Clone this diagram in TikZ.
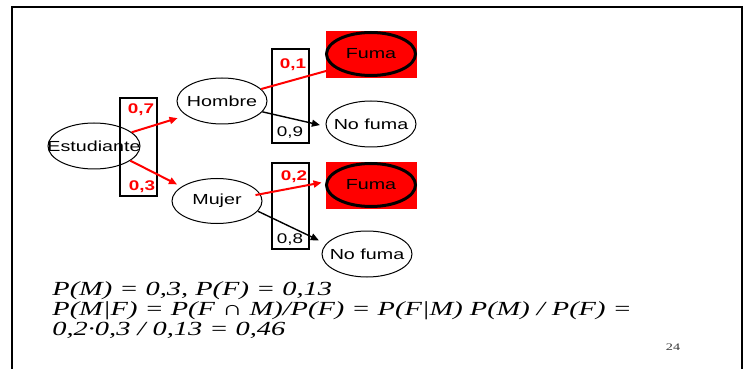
\documentclass[tikz,border=0pt]{standalone}
\usepackage{fontspec}
\newfontfamily\fuente[FakeStretch=1.35]{Liberation Sans}
\newfontfamily\formula[FakeStretch=1.42]{Liberation Serif}
\usepackage{tikz}
\usetikzlibrary{positioning,arrows.meta,shapes.geometric}
\newcommand{\etiq}[1]{\makebox[0pt]{#1}}
\tikzset{
  suceso/.style={ellipse, draw, line width=0.5pt, inner sep=0pt, minimum width=45pt, minimum height=23pt, font=\fuente\fontsize{7.3}{8}\selectfont},
  fuma/.style={suceso, line width=1.5pt, minimum width=44.5pt, minimum height=21.5pt},
  fondo/.style={rectangle, fill=red, inner sep=0pt, minimum width=45.5pt, minimum height=23.5pt},
  caja/.style={rectangle, draw, line width=1pt, inner sep=0pt, minimum width=18.5pt},
  prob/.style={font=\fuente\fontsize{7}{8}\selectfont, inner sep=0pt},
  probroja/.style={prob, font=\fuente\bfseries\fontsize{7}{8}\selectfont, text=red},
  rama/.style={red, line width=1pt, -{Triangle[length=4pt,width=3.5pt]}},
  ramanegra/.style={black, line width=0.7pt, -{Triangle[length=4pt,width=3.5pt]}},
  formula/.style={anchor=base west, inner sep=0pt, font=\formula\itshape\fontsize{10}{10}\selectfont}
}
\begin{document}
\begin{tikzpicture}[x=0.5pt,y=-0.5pt]
\useasboundingbox (0,0) rectangle (750,369);
\draw[line width=1pt] (12,369) -- (12,7) -- (742,7) -- (742,369);

\node[caja, minimum height=49pt] (c1) at (138.5,147) {};
\node[caja, minimum height=47pt] (c2) at (290.5,96) {};
\node[caja, minimum height=43pt] (c3) at (290.5,206) {};

\node[suceso, minimum width=46pt] (est) at (94,146) {\etiq{Estudiante}};
\node[suceso] (hom) at (222,101) {\etiq{Hombre}};
\node[suceso, minimum height=22.5pt] (muj) at (217,201) {\etiq{Mujer}};

\node[fondo] (f1) at (371.5,54.5) {};
\node[fuma] (fuma1) at (371,54) {\etiq{Fuma}};
\node[suceso] (nf1) at (371,124) {\etiq{No fuma}};
\node[fondo] (f2) at (371.5,185.5) {};
\node[fuma] (fuma2) at (371,185) {\etiq{Fuma}};
\node[suceso] (nf2) at (367,254) {\etiq{No fuma}};

\node[probroja] (p7) at (141,110) {0,7};
\node[probroja] (p3) at (142,187) {0,3};
\node[probroja] (p1) at (293,65) {0,1};
\node[prob] (p9) at (290,133) {0,9};
\node[probroja] (p2) at (294,177) {0,2};
\node[prob] (p8) at (290,240) {0,8};

\draw[rama, shorten >=4.5pt] (est.20) -- (hom.202);
\draw[rama, shorten >=2.5pt] (est.-22) -- (muj.158);
\draw[rama] (hom.17) -- (fuma1.202);
\draw[ramanegra, shorten >=3pt] (hom.-15) -- (nf1.183);
\draw[rama, shorten <=-2.5pt, shorten >=2pt] (muj.9) -- (fuma2.176);
\draw[ramanegra, shorten >=4pt] (muj.-14) -- (nf2.166);

\node[formula] (l1) at (52,295) {P(M) = 0,3, P(F) = 0,13};
\node[formula] (l2) at (52,315) {P(M|F) = P(F ∩ M)/P(F) = P(F|M) P(M) / P(F) =};
\node[formula] (l3) at (52,335) {0,2·0,3 / 0,13 = 0,46};
\node[font=\formula\fontsize{5}{6}\selectfont, text=black!80, inner sep=0pt] (pag) at (673,347) {24};
\end{tikzpicture}
\end{document}
